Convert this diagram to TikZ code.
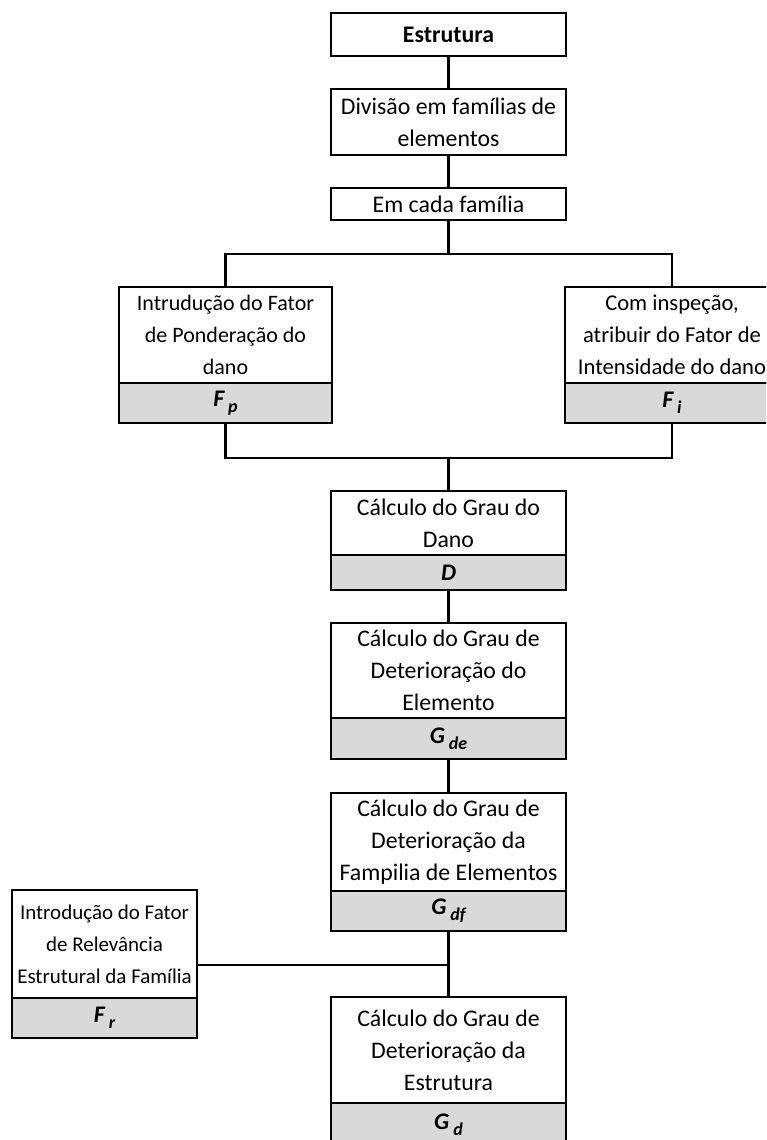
\documentclass[tikz,border=0pt]{standalone}
\usepackage{fontspec}
\setmainfont{Carlito}
\definecolor{cinzento}{RGB}{217,217,217}
\newcommand{\fator}[2]{\textbf{\textit{#1\,\raisebox{-0.55ex}{\fontsize{9}{9}\selectfont #2}}}}
\tikzset{
  caixa/.style={draw, line width=1.4pt, fill=white, align=center, inner sep=0pt,
    outer sep=0pt, anchor=north, minimum width=#1, font=\fontsize{11.9}{16}\selectfont},
  valor/.style={caixa=#1, fill=cinzento},
  menor/.style={font=\fontsize{#1}{16}\selectfont},
  liga/.style={line width=1.2pt}
}
\begin{document}
\begin{tikzpicture}[x=0.5pt, y=-0.5pt]
\path[use as bounding box, clip] (0,0) rectangle (766,1140);
% coluna principal
\node[caixa=117.5pt, minimum height=21.5pt] (estr) at (448.5,13) {\textbf{Estrutura}};
\node[caixa=117.5pt, minimum height=33pt] (div) at (448.5,89) {Divisão em famílias de\\elementos};
\node[caixa=117.5pt, minimum height=16pt] (cada) at (448.5,188) {Em cada família};
% os dois fatores
\node[caixa=106.5pt, menor=11, minimum height=48pt] (pond) at (225.5,287) {Intrudução do Fator\\de Ponderação do\\dano};
\node[valor=106.5pt, minimum height=20pt] (pondF) at (pond.south) {\fator{F}{p}};
\node[caixa=107pt, menor=11.3, minimum height=48pt] (insp) at (672,287) {Com inspeção,\\atribuir do Fator de\\Intensidade do dano};
\node[valor=107pt, minimum height=20pt] (inspF) at (insp.south) {\fator{F}{i}};
% graus
\node[caixa=117.5pt, minimum height=32pt] (dano) at (448.5,491) {Cálculo do Grau do\\Dano};
\node[valor=117.5pt, minimum height=17.5pt] (danoF) at (dano.south) {\textbf{\textit{D}}};
\node[caixa=117.5pt, minimum height=47.5pt] (elem) at (448.5,623) {Cálculo do Grau de\\Deterioração do\\Elemento};
\node[valor=117.5pt, minimum height=20.5pt] (elemF) at (elem.south) {\fator{G}{de}};
\node[caixa=117.5pt, minimum height=49pt] (fam) at (448.5,793) {Cálculo do Grau de\\Deterioração da\\Fampilia de Elementos};
\node[valor=117.5pt, minimum height=20pt] (famF) at (fam.south) {\fator{G}{df}};
\node[caixa=92.5pt, menor=10.5, minimum height=54pt] (relev) at (104.5,890) {Introdução do Fator\\de Relevância\\Estrutural da Família};
\node[valor=92.5pt, minimum height=20pt] (relevF) at (relev.south) {\fator{F}{r}};
\node[caixa=117.5pt, minimum height=53pt] (estrut) at (448.5,997) {Cálculo do Grau de\\Deterioração da\\Estrutura};
\node[valor=117.5pt, minimum height=22pt] (estrutF) at (estrut.south) {\fator{G}{d}};
% pontos de ligacao
\coordinate (ramo) at (448.5,254);
\coordinate (junta) at (448.5,458);
\coordinate (juntaR) at (448.5,965);
% ligacoes
\draw[liga] (estr.south) -- (div.north);
\draw[liga] (div.south) -- (cada.north);
\draw[liga] (cada.south) -- (ramo);
\draw[liga] (pond.north) |- (ramo) -| (insp.north);
\draw[liga] (pondF.south) |- (junta) -| (inspF.south);
\draw[liga] (junta) -- (dano.north);
\draw[liga] (danoF.south) -- (elem.north);
\draw[liga] (elemF.south) -- (fam.north);
\draw[liga] (famF.south) -- (estrut.north);
\draw[liga] (juntaR -| relev.east) -- (juntaR);
\end{tikzpicture}
\end{document}
